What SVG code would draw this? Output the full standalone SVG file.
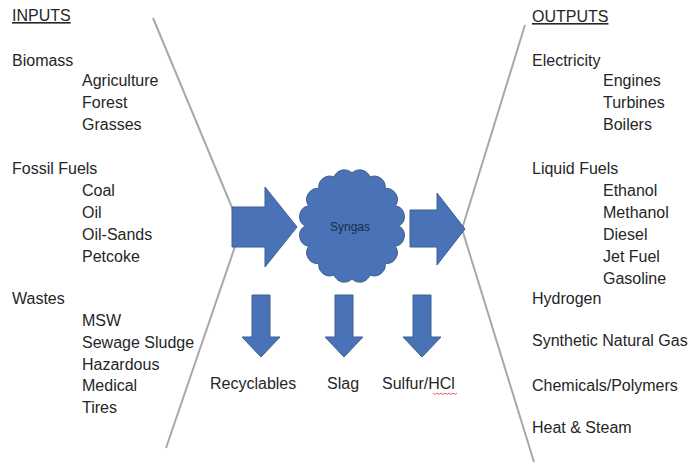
<svg xmlns="http://www.w3.org/2000/svg" width="690" height="465" viewBox="0 0 690 465">
<style>
  text { font-family: "Liberation Sans", Arial, sans-serif; font-size: 16px; fill: #262626; }
  .hdr { text-decoration: underline; }
  .shape { fill: #4a72b6; stroke: #3a5f94; stroke-width: 1; }
  .funnel { fill: none; stroke: #a8a8a8; stroke-width: 2; }
  .syn { font-size: 12px; fill: #1c2a48; }
</style>
<rect width="690" height="465" fill="#ffffff"/>
<g id="funnel">
  <polyline class="funnel" points="153,18 241,229 166,448"/>
  <polyline class="funnel" points="525,25 462,229 534,462"/>
</g>
<g id="inputs">
  <text x="12" y="21" class="hdr">INPUTS</text>
  <text x="12" y="66">Biomass</text>
  <text x="82" y="86">Agriculture</text>
  <text x="82" y="108">Forest</text>
  <text x="82" y="130">Grasses</text>
  <text x="12" y="174">Fossil Fuels</text>
  <text x="82" y="196">Coal</text>
  <text x="82" y="218">Oil</text>
  <text x="82" y="240">Oil-Sands</text>
  <text x="82" y="262">Petcoke</text>
  <text x="12" y="304">Wastes</text>
  <text x="82" y="326">MSW</text>
  <text x="82" y="348">Sewage Sludge</text>
  <text x="82" y="370">Hazardous</text>
  <text x="82" y="391">Medical</text>
  <text x="82" y="413">Tires</text>
</g>
<g id="outputs">
  <text x="532" y="22" class="hdr">OUTPUTS</text>
  <text x="532" y="66">Electricity</text>
  <text x="603" y="86">Engines</text>
  <text x="603" y="108">Turbines</text>
  <text x="603" y="130">Boilers</text>
  <text x="532" y="174">Liquid Fuels</text>
  <text x="603" y="196">Ethanol</text>
  <text x="603" y="218">Methanol</text>
  <text x="603" y="240">Diesel</text>
  <text x="603" y="262">Jet Fuel</text>
  <text x="603" y="284">Gasoline</text>
  <text x="532" y="304">Hydrogen</text>
  <text x="532" y="346">Synthetic Natural Gas</text>
  <text x="532" y="391">Chemicals/Polymers</text>
  <text x="532" y="433">Heat &amp; Steam</text>
</g>
<g id="connectors">
  <polygon class="shape" points="232,207 265,207 265,187 297,227 265,267 265,247 232,247"/>
  <polygon class="shape" points="410,210 437,210 437,193 465,229 437,265 437,247 410,247"/>
  <polygon class="shape" points="252,295 270,295 270,337 280,337 261,357 242,337 252,337"/>
  <polygon class="shape" points="335,295 353,295 353,337 363,337 344,357 325,337 335,337"/>
  <polygon class="shape" points="413,295 431,295 431,337 441,337 422,357 403,337 413,337"/>
</g>
<g id="syngas">
  <path class="shape" d="M352,173 A11,11 0 0 1 370,177 A11,11 0 0 1 385.2,188.5 A11,11 0 0 1 395.4,205.7 A11,11 0 0 1 399,226 A11,11 0 0 1 395.4,246.3 A11,11 0 0 1 385.2,263.5 A11,11 0 0 1 370,275 A11,11 0 0 1 352,279 A11,11 0 0 1 334,275 A11,11 0 0 1 318.8,263.5 A11,11 0 0 1 308.6,246.3 A11,11 0 0 1 305,226 A11,11 0 0 1 308.6,205.7 A11,11 0 0 1 318.8,188.5 A11,11 0 0 1 334,177 A11,11 0 0 1 352,173 Z"/>
  <text x="350" y="231" class="syn" text-anchor="middle">Syngas</text>
</g>
<g id="byproducts">
  <text x="210" y="389">Recyclables</text>
  <text x="327" y="389">Slag</text>
  <text x="382" y="389">Sulfur/HCl</text>
  <path d="M433,393 l2,1.5 l2,-1.5 l2,1.5 l2,-1.5 l2,1.5 l2,-1.5 l2,1.5 l2,-1.5 l2,1.5 l2,-1.5 l2,1.5 l2,-1.5" fill="none" stroke="#d04040" stroke-width="0.8"/>
</g>
</svg>
